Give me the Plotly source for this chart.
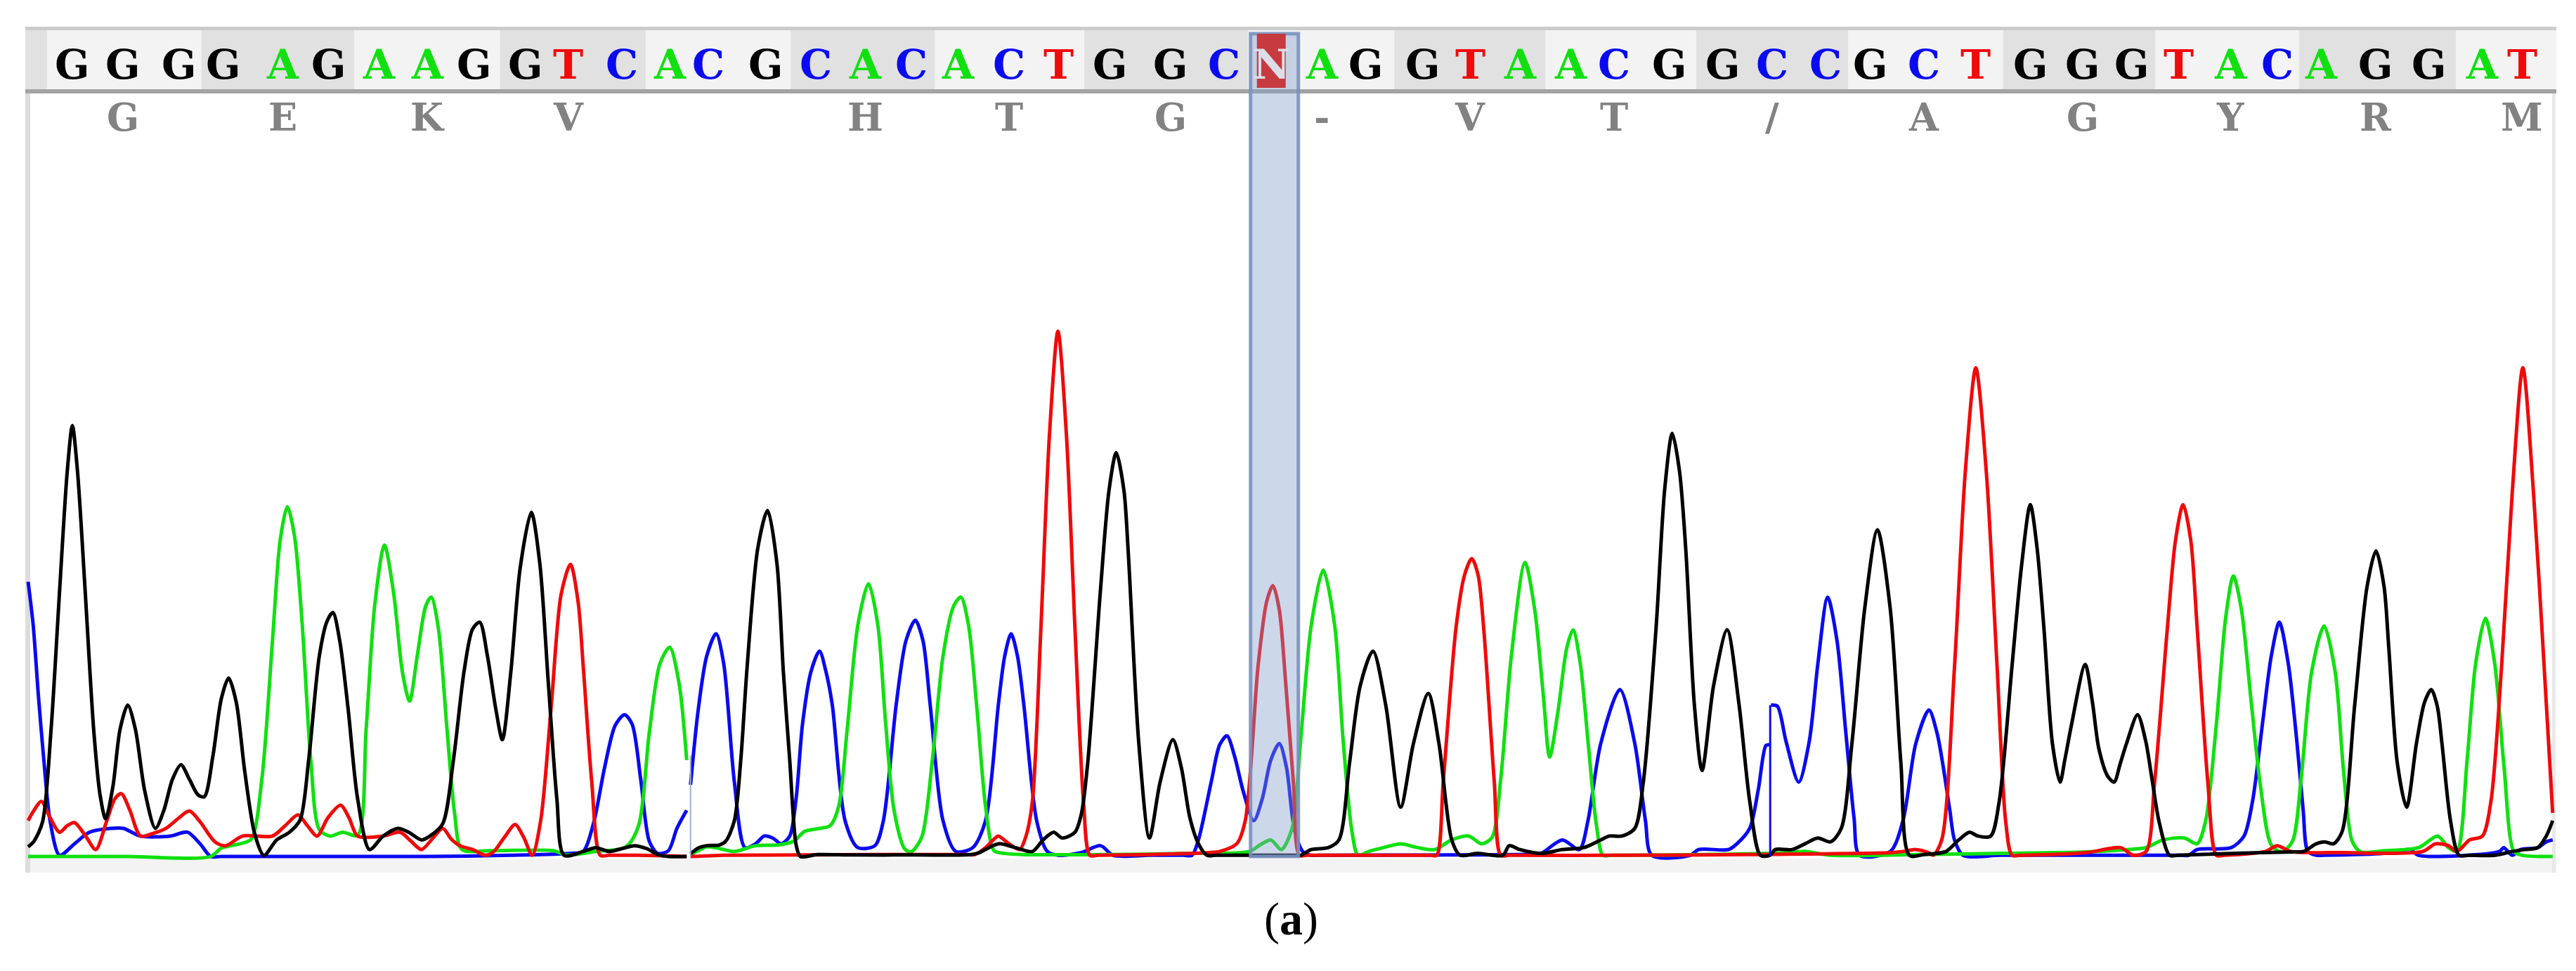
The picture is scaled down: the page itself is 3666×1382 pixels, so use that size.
import plotly.graph_objects as go

W, H = 3666, 1382
PX_PER_SCAN = 950 / 1568      # figure px per scan unit
PX_PER_UNIT = 860 / 1568      # figure px per signal unit
BASELINE_PX = 1219

# ---------------- data ----------------
BASES = "GGGGAGAAGGTCACGCACACTGGCNAGGTAACGGCCGCTGGGTACAGGAT"
BASE_POS = [170, 289, 421, 525, 665, 772, 891, 1004, 1114, 1235, 1335, 1461, 1573,
            1664, 1799, 1916, 2032, 2141, 2251, 2370, 2486, 2608, 2750, 2875, 2987,
            3105, 3208, 3343, 3453, 3571, 3689, 3792, 3922, 4047, 4163, 4288, 4394,
            4519, 4641, 4770, 4892, 5008, 5117, 5239, 5349, 5452, 5580, 5706, 5831, 5924]
AMINO = ["G", "E", "K", "V", "", "H", "T", "G", "-", "V", "T", "/", "A", "G", "Y", "R", "M"]

BREAK_1 = 1622
BREAK_2 = 4158

# channel A (green)
A_TRACE = [(66,0),(300,0),(495,0),(520,22),(560,32),(590,45),(615,200),(640,560),(658,820),(675,908),
    (692,830),(710,600),(730,250),(750,70),(775,53),(805,63),(840,55),(860,330),(880,650),(903,808),
    (925,680),(945,480),(962,403),(980,520),(1000,650),(1013,673),(1030,590),(1050,330),(1068,110),
    (1085,18),(1150,15),(1300,15),(1330,4),(1400,13),(1470,25),(1500,80),(1525,320),(1550,500),
    (1573,543),(1595,450),(1613,250),(None,None),
    (1622,5),(1640,15),(1660,25),(1685,22),(1725,13),(1775,28),(1830,30),(1865,40),(1890,65),(1920,72),
    (1950,80),(1970,130),(1990,330),(2015,600),(2040,708),(2062,600),(2080,350),(2100,120),(2125,20),
    (2140,12),(2165,50),(2190,250),(2215,520),(2240,650),(2257,673),(2275,600),(2295,380),(2315,130),
    (2335,15),(2360,8),(2400,5),(2600,5),(2800,8),(2935,13),(2960,30),(2985,43),(3010,18),(3035,73),
    (3055,300),(3080,600),(3108,743),(3135,600),(3155,300),(3175,70),(3190,3),(3215,13),(3250,23),
    (3290,33),(3330,23),(3370,18),(3410,43),(3450,53),(3480,33),(3505,50),(3525,200),(3550,520),
    (3582,763),(3605,640),(3625,420),(3640,258),(3660,380),(3680,540),(3695,588),(3712,500),(3730,300),
    (3750,80),(3765,3),(3785,3),(4000,5),(4200,10),(4240,13),(4300,3),(4500,5),(4700,8),(4900,12),
    (5020,20),(5041,23),(5081,43),(5131,48),(5161,33),(5181,93),(5205,330),
    (5228,620),(5246,728),(5265,640),(5288,400),(5310,180),(5335,30),(5360,12),(5385,40),(5405,200),
    (5430,480),(5459,598),(5485,480),(5505,220),(5525,40),(5545,12),(5600,15),(5681,23),(5726,53),
    (5751,23),(5771,13),(5795,250),(5815,500),(5838,618),(5860,500),(5882,230),(5905,13),(5925,3),
    (5996,0)]

# channel C (blue)
C_TRACE = [(66,713),(78,600),(90,420),(103,250),(118,90),(140,3),(175,33),(210,63),(260,73),(290,73),
    (330,53),(400,53),(440,63),(470,33),(495,0),(520,0),(600,0),(800,0),(1000,0),(1200,3),(1340,8),
    (1370,13),(1395,90),(1420,230),(1445,340),
    (1467,368),(1485,343),(1505,200),(1525,40),(1545,8),(1570,15),(1590,73),(1613,120),(None,None),
    (1622,186),(1640,380),(1660,520),(1682,578),(1700,500),(1725,193),(1750,23),(1775,33),(1795,53),
    (1815,48),(1835,33),(1855,53),(1870,150),(1885,343),(1905,480),(1925,533),(1940,480),(1955,393),
    (1985,93),(2015,23),(2055,28),(2075,93),(2105,393),(2128,560),(2150,613),(2168,560),(2185,393),
    (2215,93),(2245,13),(2285,23),(2315,93),(2345,393),(2360,520),(2375,578),(2390,520),(2405,393),
    (2435,93),(2460,13),(2485,3),(2540,10),(2585,28),(2615,3),(2700,3),(2780,3),(2800,3),(2815,43),
    (2845,193),(2865,290),(2882,313),
    (2900,260),(2920,170),(2945,93),(2965,150),(2985,250),(3005,293),(3022,230),(3040,73),(3060,13),
    (3080,3),(3100,3),(3400,4),(3600,6),(3620,8),(3670,43),(3710,18),(3730,93),(3760,293),(3805,433),
    (3840,293),(3865,93),
    (3880,3),(3970,3),(3990,18),(4060,18),(4080,33),(4110,73),(4130,173),(4148,288),(4156,290),
    (None,None),(4160,393),(4175,390),(4195,300),(4225,193),(4250,300),(4270,500),(4293,673),(4315,560),
    (4335,330),(4355,100),(4368,3),(4440,13),(4470,93),(4500,293),(4531,380),(4550,320),(4563,243),
    (4580,120),(4591,43),(4611,3),(4700,3),(4900,3),(5120,3),(5141,3),(5161,18),(5241,23),(5271,53),
    (5291,143),(5315,350),
    (5335,520),(5354,608),(5375,500),(5395,300),(5410,120),(5421,13),(5441,3),(5460,3),(5600,8),
    (5661,18),(5681,3),(5871,13),(5881,23),(5901,3),(5921,18),(5961,23),(5981,38),(5996,43)]

# channel G (black)
G_TRACE = [(66,25),(80,40),(100,90),(120,330),(140,690),(158,1000),(170,1118),(182,1000),(200,690),
    (220,330),(235,160),(248,98),(265,180),(282,330),(300,393),(318,330),(340,170),(365,73),(385,120),
    (405,200),(425,238),(445,200),(465,160),(480,155),(500,260),(520,410),(537,463),(555,400),(575,220),
    (598,60),(620,3),(650,43),(680,63),(705,95),(725,250),(750,520),(768,610),(782,633),(798,560),
    (818,380),(840,150),(868,18),(900,53),(935,73),(960,63),(990,43),(1010,53),(1040,85),(1065,250),
    (1090,480),(1110,590),(1127,608),(1145,520),(1165,380),(1180,303),(1200,480),(1222,750),(1248,893),
    (1268,760),(1288,450),(1308,150),(1325,3),(1370,13),(1400,23),(1430,13),(1460,20),(1490,28),
    (1520,20),(1545,5),(1570,0),(1613,0),(None,None),
    (1622,7),(1640,22),(1660,28),(1690,30),(1705,40),(1725,93),(1740,250),(1755,493),(1780,800),
    (1803,898),(1825,760),(1840,480),(1855,250),(1870,30),(1880,0),(1920,5),(2000,4),(2150,4),
    (2280,5),(2300,10),
    (2345,33),(2385,23),(2425,13),(2450,43),(2475,63),(2495,48),(2525,63),(2540,110),(2555,243),
    (2585,693),(2605,950),(2622,1048),(2640,950),(2650,793),(2675,293),(2700,48),(2725,193),(2755,303),
    (2775,230),(2795,100),(2815,33),(2835,3),(2855,3),(2950,3),(3040,3),(3055,3),(3080,18),(3120,23),
    (3145,43),(3170,243),
    (3195,443),(3225,533),(3255,393),(3290,128),(3320,293),(3355,423),(3380,293),(3410,43),(3430,3),
    (3470,8),(3530,3),(3545,28),(3570,18),(3620,8),(3670,18),(3720,23),(3760,43),(3780,53),(3810,53),
    (3840,73),(3860,193),(3890,593),(3910,950),(3928,1098),(3945,1000),(3960,793),(3980,393),(3998,223),
    (4025,443),(4057,588),(4085,393),(4110,143),(4135,3),(4157,3),(4170,18),(4210,18),(4240,33),
    (4270,48),(4300,38),(4325,73),(4350,293),(4380,643),(4410,848),(4440,643),(4465,243),(4485,3),
    (4520,5),(4571,13),(4601,43),(4626,63),(4646,53),(4676,53),(4696,143),(4726,493),(4748,750),
    (4769,913),
    (4785,800),(4801,593),(4821,293),(4839,193),(4850,250),(4866,343),(4898,498),(4915,400),(4930,280),
    (4951,208),(4966,193),(4980,240),(4995,293),(5021,368),(5040,300),(5055,200),(5071,93),(5096,3),
    (5115,3),(5250,8),(5390,12),(5411,13),(5441,33),(5461,38),(5481,33),(5501,63),(5531,393),(5560,700),
    (5581,793),(5600,700),
    (5611,543),(5631,243),(5653,128),(5676,293),(5695,400),(5711,433),(5725,390),(5736,293),(5756,93),
    (5776,3),(5800,3),(5861,3),(5901,13),(5931,18),(5961,23),(5981,53),(5996,93)]

# channel T (red)
T_TRACE = [(66,93),(80,120),(97,143),(118,100),(140,63),(158,80),(175,88),(200,55),(225,18),(250,90),
    (270,150),(285,163),(305,120),(330,53),(360,60),(390,73),(420,100),(445,118),(470,90),(505,38),
    (530,28),(570,53),(640,53),(670,80),(700,108),(722,80),(745,53),(770,100),(800,133),(820,100),
    (840,53),(900,53),(940,63),(965,40),(990,18),(1015,45),(1040,73),(1060,45),(1080,28),(1110,18),
    (1140,3),(1160,13),(1185,50),(1210,83),(1230,50),(1250,3),(1270,93),(1295,393),(1318,680),
    (1340,758),(1358,660),(1370,493),(1390,193),(1410,3),(1430,3),(1500,3),(1613,0),(None,None),
    (1622,0),(1700,3),(1900,4),(2065,5),(2200,5),(2270,5),(2290,5),(2315,23),(2335,45),(2345,53),
    (2370,33),(2395,18),(2410,53),(2425,143),
    (2445,593),(2465,1093),(2485,1363),(2505,1093),(2525,593),(2545,143),(2560,3),(2580,3),(2700,5),
    (2840,10),(2865,13),(2905,33),
    (2925,93),(2955,493),(2975,660),(2990,703),(3005,640),(3020,450),(3038,193),(3052,3),(3070,3),
    (3200,3),(3360,3),(3375,3),
    (3390,193),(3420,593),(3440,730),(3457,773),(3472,730),(3485,593),(3510,193),(3525,3),(3545,3),
    (3800,3),(4100,5),(4440,10),(4470,13),
    (4500,18),(4530,10),(4541,3),(4561,43),(4591,493),(4616,993),(4641,1268),(4666,993),(4691,493),
    (4711,93),(4726,3),(4745,3),(4900,10),(4981,23),(5011,3),(5041,13),(5061,193),(5091,593),(5110,820),
    (5128,913),
    (5146,820),(5161,593),(5186,193),(5206,3),(5225,3),(5321,13),(5349,28),(5381,13),(5500,10),
    (5691,13),(5721,33),
    (5751,28),(5771,13),(5801,43),(5831,53),(5851,143),(5876,493),(5901,943),(5926,1268),(5951,943),
    (5976,493),(5996,113)]

COLORS = {"A": "#10e010", "C": "#0a0af0", "G": "#000000", "T": "#f00a0a"}
TRACES = {"C": C_TRACE, "A": A_TRACE, "T": T_TRACE, "G": G_TRACE}

# ---------------- helpers (layout) ----------------
def px(xp):
    return xp / W

def py(yp):
    return 1 - yp / H

def to_scan(xp):
    return xp / PX_PER_SCAN

fig = go.Figure()

for base in ["C", "A", "T", "G"]:
    pts = TRACES[base]
    fig.add_trace(go.Scatter(
        x=[p[0] for p in pts], y=[p[1] for p in pts], mode="lines",
        line=dict(color=COLORS[base], width=5, shape="spline", smoothing=0.8),
        connectgaps=False, hoverinfo="skip", showlegend=False))

shapes = []
BAR_L, BAR_R, BAR_T, BAR_B = 36, 3638, 43, 127
# bottom grey strip and borders
shapes.append(dict(type="rect", xref="paper", yref="paper", x0=px(BAR_L), x1=px(BAR_R),
                   y0=py(1242), y1=py(1222), fillcolor="#f3f3f3", line_width=0, layer="below"))
shapes.append(dict(type="rect", xref="paper", yref="paper", x0=px(36), x1=px(43),
                   y0=py(1242), y1=py(BAR_T), fillcolor="#dcdcdc", line_width=0, layer="below"))
shapes.append(dict(type="rect", xref="paper", yref="paper", x0=px(3632), x1=px(3637),
                   y0=py(1242), y1=py(BAR_T), fillcolor="#e8e8e8", line_width=0, layer="below"))
# sequence bar
shapes.append(dict(type="rect", xref="paper", yref="paper", x0=px(BAR_L), x1=px(BAR_R),
                   y0=py(BAR_B), y1=py(BAR_T), fillcolor="#e1e1e1", line_width=0, layer="below"))
n_codons = (len(BASES) + 2) // 3
for k in range(0, n_codons, 2):
    i0, i1 = 3 * k, min(3 * k + 2, len(BASES) - 1)
    if i0 == 0:
        left = BASE_POS[0] - (BASE_POS[1] - BASE_POS[0]) / 2
    else:
        left = (BASE_POS[i0 - 1] + BASE_POS[i0]) / 2
    if i1 == len(BASES) - 1:
        right = to_scan(BAR_R)
    else:
        right = (BASE_POS[i1] + BASE_POS[i1 + 1]) / 2
    shapes.append(dict(type="rect", xref="x", yref="paper", x0=left, x1=right,
                       y0=py(BAR_B), y1=py(BAR_T), fillcolor="#f3f3f3", line_width=0, layer="below"))
shapes.append(dict(type="rect", xref="paper", yref="paper", x0=px(BAR_L), x1=px(BAR_R),
                   y0=py(43), y1=py(38), fillcolor="#cbcbcb", line_width=0, layer="below"))
shapes.append(dict(type="rect", xref="paper", yref="paper", x0=px(BAR_L), x1=px(BAR_R),
                   y0=py(133), y1=py(127), fillcolor="#a3a3a3", line_width=0, layer="below"))
# trace joins
shapes.append(dict(type="line", xref="x", yref="y", x0=BREAK_1, x1=BREAK_1, y0=0, y1=262,
                   line=dict(color="#9fb0cc", width=2), layer="above"))
shapes.append(dict(type="line", xref="x", yref="y", x0=BREAK_2, x1=BREAK_2, y0=0, y1=393,
                   line=dict(color=COLORS["C"], width=3), layer="above"))
# highlighted column for the N call
n_idx = BASES.index("N")
n_px = BASE_POS[n_idx] * PX_PER_SCAN
shapes.append(dict(type="rect", xref="paper", yref="paper", x0=px(n_px - 30), x1=px(n_px + 38),
                   y0=py(BASELINE_PX), y1=py(48), fillcolor="rgba(130,155,202,0.40)",
                   line=dict(color="rgba(120,145,192,0.9)", width=5), layer="above"))
shapes.append(dict(type="rect", xref="paper", yref="paper", x0=px(n_px - 21), x1=px(n_px + 20),
                   y0=py(125), y1=py(48), fillcolor="#c63a40", line_width=0, layer="above"))

annotations = []
for b, xs in zip(BASES, BASE_POS):
    col = "#dcdde6" if b == "N" else COLORS[b]
    annotations.append(dict(x=xs, y=py(92), xref="x", yref="paper", text="<b>%s</b>" % b,
                            showarrow=False, xanchor="center", yanchor="middle",
                            font=dict(family="DejaVu Serif", size=58, color=col)))
for k, aa in enumerate(AMINO):
    if not aa:
        continue
    annotations.append(dict(x=BASE_POS[3 * k + 1], y=py(167), xref="x", yref="paper",
                            text="<b>%s</b>" % aa, showarrow=False, xanchor="center", yanchor="middle",
                            font=dict(family="DejaVu Serif", size=54, color="#828282")))
annotations.append(dict(x=px(1837), y=py(1308), xref="paper", yref="paper", text="(<b>a</b>)",
                        showarrow=False, xanchor="center", yanchor="middle",
                        font=dict(family="Liberation Serif", size=66, color="#000000")))

fig.update_layout(
    width=W, height=H, margin=dict(l=0, r=0, t=0, b=0),
    paper_bgcolor="white", plot_bgcolor="white", showlegend=False,
    xaxis=dict(range=[0, W / PX_PER_SCAN], visible=False, fixedrange=True),
    yaxis=dict(range=[-(H - BASELINE_PX) / PX_PER_UNIT, BASELINE_PX / PX_PER_UNIT],
               visible=False, fixedrange=True),
    shapes=shapes, annotations=annotations)

fig.write_html("out.html", config={"displayModeBar": False},
               post_script="document.body.style.margin='0';document.body.style.overflow='hidden';")
